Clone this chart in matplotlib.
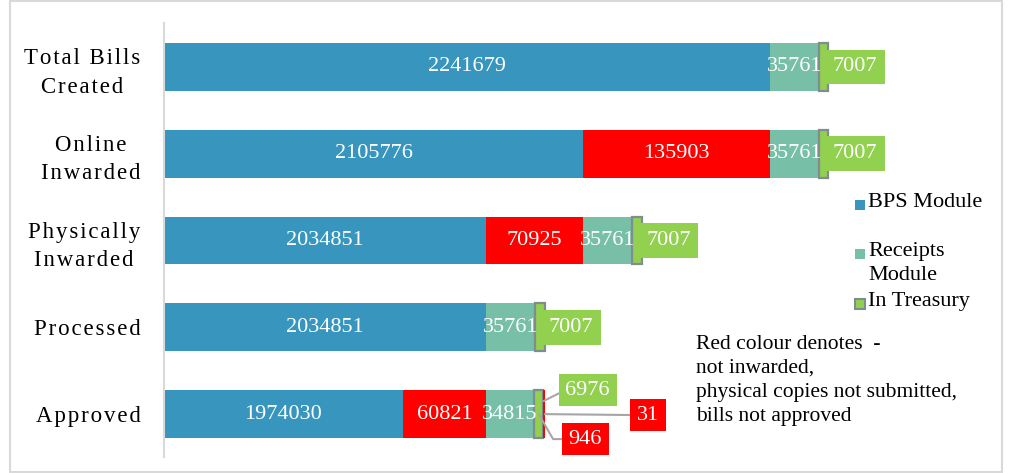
import numpy as np
import matplotlib
matplotlib.use('Agg')
import matplotlib.pyplot as plt
from matplotlib.patches import Rectangle

plt.rcParams['font.family'] = ['Liberation Serif', 'DejaVu Serif']

# data
categories = ['Total Bills\nCreated', 'Online\nInwarded', 'Physically\nInwarded', 'Processed', 'Approved']
bps = np.array([2241679, 2105776, 2034851, 2034851, 1974030])
not_done = np.array([0, 135903, 70925, 0, 60821])        # red part after BPS
receipts = np.array([35761, 35761, 35761, 35761, 34815])
treasury = np.array([7007, 7007, 7007, 7007, 6976])
receipts_not_approved = np.array([0, 0, 0, 0, 946])
treasury_not_approved = np.array([0, 0, 0, 0, 31])

legend_labels = ['BPS Module', 'Receipts\nModule', 'In Treasury']
note = 'Red colour denotes  -\nnot inwarded,\nphysical copies not submitted,\nbills not approved'

c_bps = '#3795BE'
c_red = '#FF0000'
c_rec = '#78BFA7'
c_tre = '#92D050'
c_edge = '#7F8C92'
c_grid = '#D9D9D9'

xmin, xmax = 1800000, 2400000

W, H = 1015, 473
fig = plt.figure(figsize=(W / 100, H / 100), dpi=100)
ax = fig.add_axes([164 / W, 15.5 / H, 823 / W, 434 / H])

y = np.arange(len(categories))
h = 0.55
fs = 16

left = np.zeros(len(y))
ax.barh(y, bps, left=left, height=h, color=c_bps)
left = left + bps
ax.barh(y, not_done, left=left, height=h, color=c_red)
red_left = left.copy()
left = left + not_done
ax.barh(y, receipts, left=left, height=h, color=c_rec)
rec_left = left.copy()
left = left + receipts
ax.barh(y, treasury, left=left, height=h, color=c_tre, edgecolor=c_edge, linewidth=1.6, zorder=3)
tre_left = left.copy()
left = left + treasury
ax.barh(y, receipts_not_approved, left=left, height=h, color=c_red, zorder=4)
rna_left = left.copy()
left = left + receipts_not_approved
ax.barh(y, treasury_not_approved, left=left, height=h, color=c_red, zorder=4)
tna_left = left.copy()

lab = dict(color='white', fontsize=fs, va='center', ha='center', zorder=5)
for i in y:
    ax.text((xmin + bps[i]) / 2, i, str(bps[i]), **lab)
    if not_done[i]:
        ax.text(red_left[i] + not_done[i] / 2, i, str(not_done[i]), **lab)
    ax.text(rec_left[i] + receipts[i] / 2, i, str(receipts[i]), **lab)

box = dict(boxstyle='square,pad=0.3', ec='none')
line = dict(arrowstyle='-', color='#A6A6A6', lw=1.5, shrinkA=0, shrinkB=0)

# treasury labels
for i in y[:-1]:
    ax.annotate(str(treasury[i]), xy=(tre_left[i] + treasury[i], i), xytext=(4, 0),
                textcoords='offset pixels', ha='left', va='center', color='white',
                fontsize=fs, bbox=dict(box, boxstyle='square,pad=0.35', fc=c_tre), zorder=6)

# approved row callouts
i = 4
ax.annotate(str(treasury[i]), xy=(tre_left[i] + treasury[i], i - 0.15), xytext=(22, 11),
            textcoords='offset pixels', ha='left', va='center', color='white', fontsize=fs,
            bbox=dict(box, fc=c_tre), arrowprops=dict(line, relpos=(0, 0.5)), zorder=6)
ax.annotate(str(receipts_not_approved[i]), xy=(tre_left[i] + treasury[i] * 0.5, i), xytext=(30, -25),
            textcoords='offset pixels', ha='left', va='center', color='white', fontsize=fs,
            bbox=dict(box, fc=c_red),
            arrowprops=dict(line, relpos=(0, 0.5), connectionstyle='angle,angleA=0,angleB=-60,rad=0'),
            zorder=6)
ax.annotate(str(treasury_not_approved[i]), xy=(tna_left[i], i), xytext=(92, -1),
            textcoords='offset pixels', ha='left', va='center', color='white', fontsize=fs,
            bbox=dict(box, fc=c_red), arrowprops=dict(line, relpos=(0, 0.5)), zorder=6)

ax.set_xlim(xmin, xmax)
ax.set_ylim(len(y) - 0.5, -0.5)
spaced = ['\n'.join('\u200a'.join(w) for w in c.split('\n')) for c in categories]
ax.set_yticks(y, spaced, fontsize=16.5, multialignment='center', linespacing=1.45)
ax.tick_params(axis='y', length=0, pad=17)
ax.set_xticks([])
for s in ['top', 'right', 'bottom']:
    ax.spines[s].set_visible(False)
ax.spines['left'].set_color(c_grid)
ax.spines['left'].set_linewidth(1.5)

# legend drawn by hand to keep the uneven spacing
leg_y = [205, 254, 304]
leg_c = [c_bps, c_rec, c_tre]
for ly, lc, lt in zip(leg_y, leg_c, legend_labels):
    ec = c_edge if lc == c_tre else 'none'
    fig.add_artist(Rectangle((855 / W, 1 - (ly + 5) / H), 10 / W, 10 / H, transform=fig.transFigure,
                             fc=lc, ec=ec, lw=1.5))
    fig.text(868 / W, 1 - (ly - 12) / H, lt, ha='left', va='top', fontsize=16, linespacing=1.35)

fig.text(696 / W, 1 - 335 / H, note, ha='left', va='top', fontsize=15.5, linespacing=1.35)

fig.add_artist(Rectangle((10 / W, 1.5 / H), 992 / W, 470 / H, transform=fig.transFigure,
                         fill=False, ec=c_grid, lw=1.5))

fig.savefig('out.png', dpi=100)
